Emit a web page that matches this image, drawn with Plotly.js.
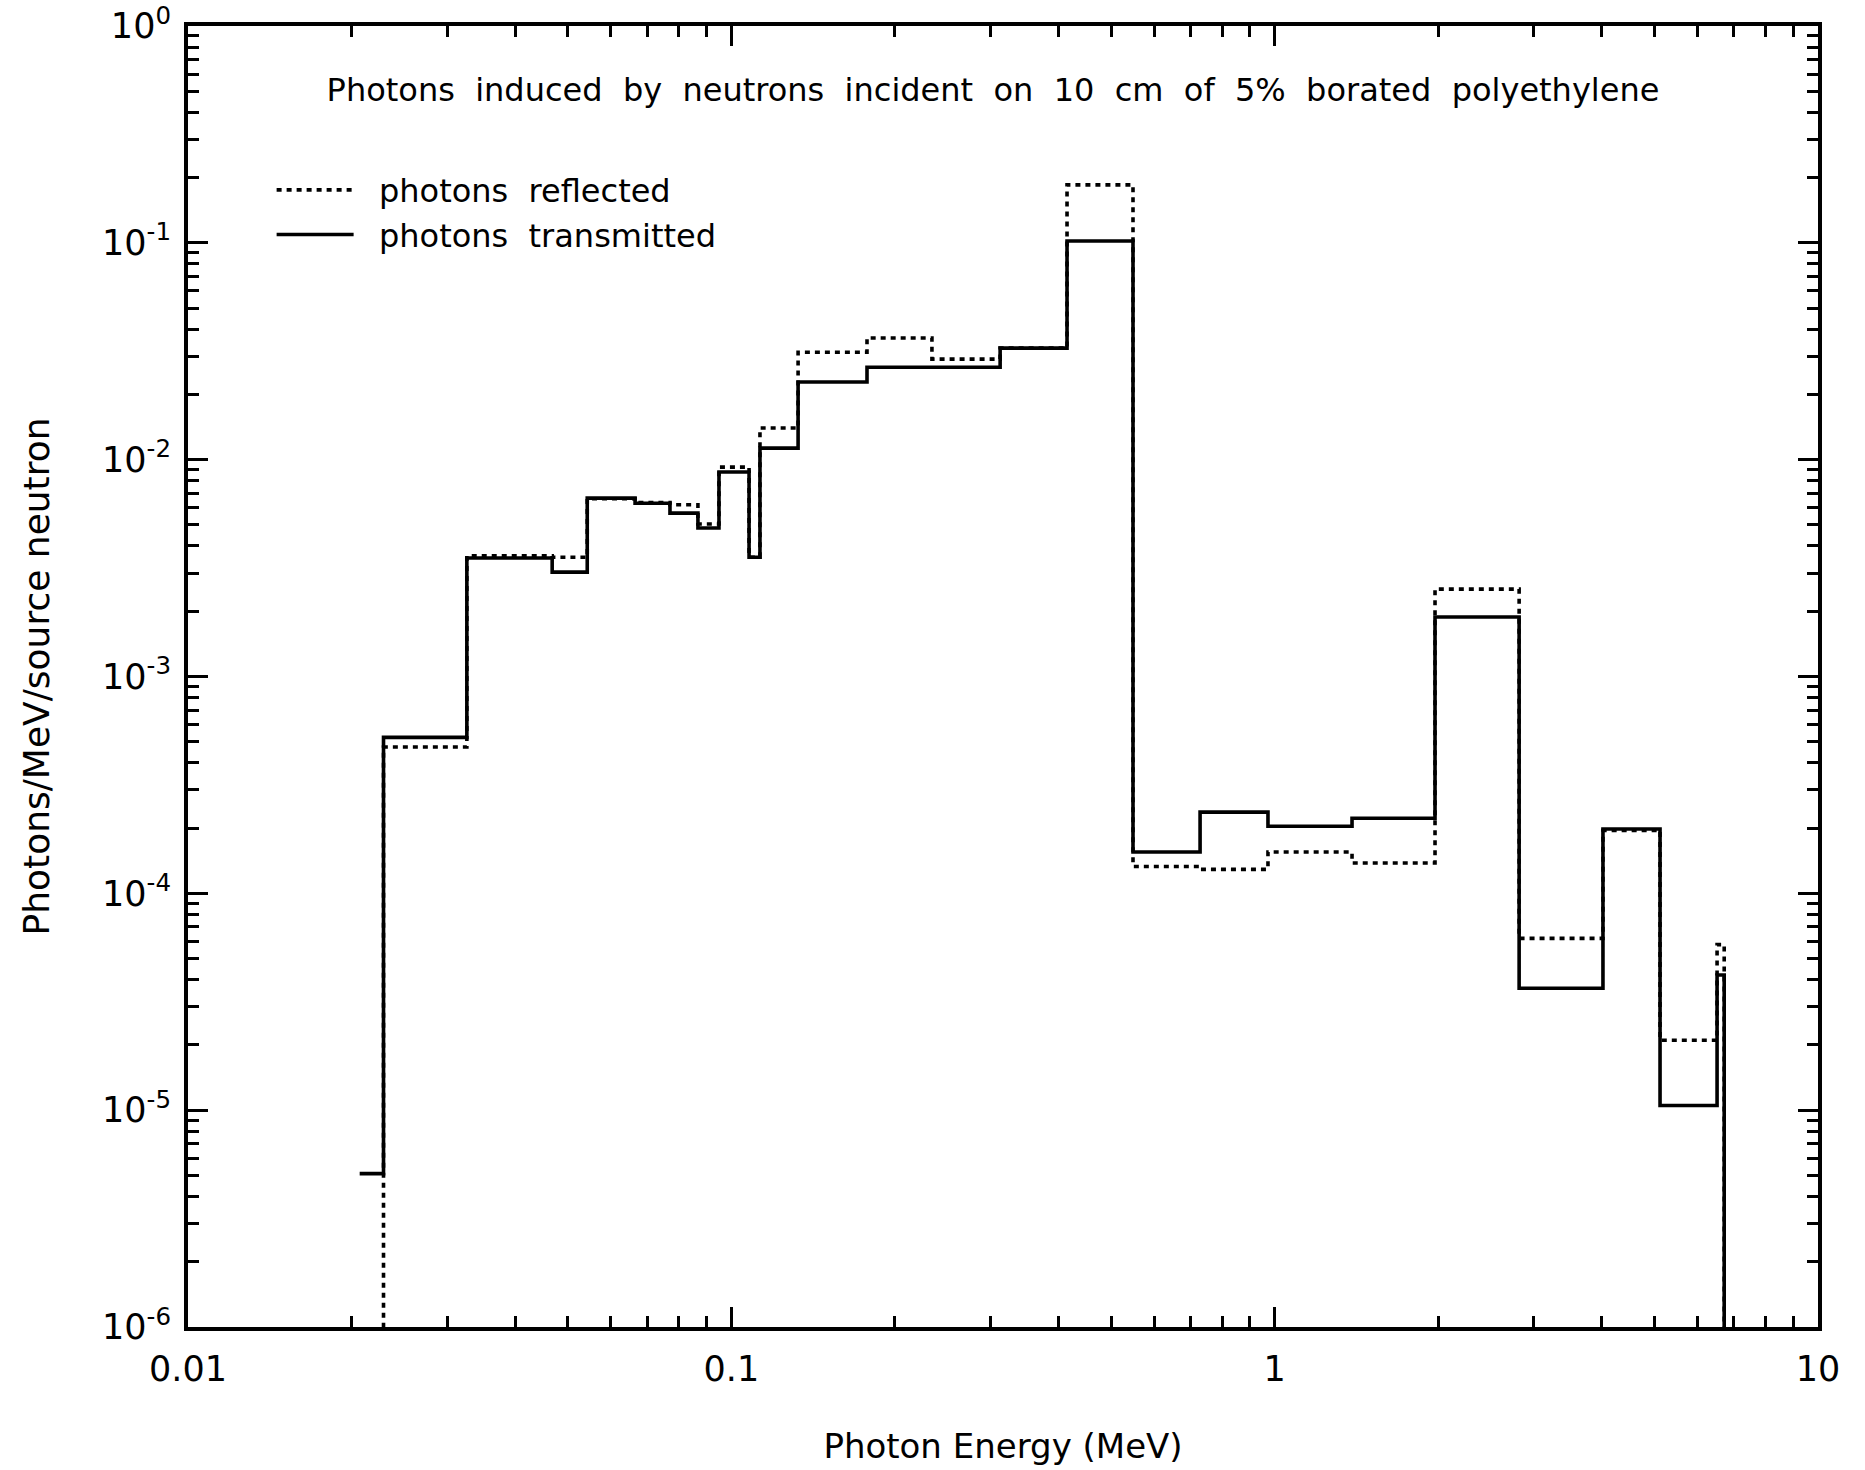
<!DOCTYPE html>
<html>
<head>
<meta charset="utf-8">
<script src="https://cdn.plot.ly/plotly-3.0.1.min.js"></script>
<style>html,body{margin:0;padding:0;background:#fff;}#chart{width:1865px;height:1470px;}</style>
</head>
<body>
<div id="chart"></div>
<script>
// Bin edges (MeV)
const binEdges = [0.0207, 0.0229, 0.0326, 0.0468, 0.0543, 0.0665, 0.0771, 0.0868, 0.0949, 0.1078, 0.1129,
  0.1327, 0.1777, 0.234, 0.3124, 0.4148, 0.5486, 0.729, 0.972, 1.388, 1.973, 2.818, 4.02, 5.12, 6.52, 6.72];
// value below the bottom of the axis (line runs off the chart)
const FLOOR = 1e-7;
// Photons/MeV/source neutron, one value per bin
const transmitted = [5.1e-6, 5.24e-4, 3.52e-3, 3.03e-3, 6.65e-3, 6.3e-3, 5.67e-3, 4.84e-3, 8.77e-3, 3.55e-3,
  1.13e-2, 2.28e-2, 2.67e-2, 2.67e-2, 3.27e-2, 0.102, 1.55e-4, 2.37e-4, 2.04e-4, 2.22e-4,
  1.88e-3, 3.65e-5, 1.98e-4, 1.05e-5, 4.2e-5];
const reflected = [FLOOR, 4.73e-4, 3.6e-3, 3.55e-3, 6.6e-3, 6.35e-3, 6.2e-3, 5.05e-3, 9.24e-3, 3.55e-3,
  1.40e-2, 3.13e-2, 3.64e-2, 2.91e-2, 3.27e-2, 0.185, 1.33e-4, 1.29e-4, 1.55e-4, 1.38e-4,
  2.53e-3, 6.2e-5, 1.95e-4, 2.1e-5, 5.8e-5];
const xTickVals = [0.01, 0.1, 1, 10];
const xTickText = ['0.01', '0.1', '1', '10'];
const yTickVals = [1e-6, 1e-5, 1e-4, 1e-3, 1e-2, 1e-1, 1];
const yTickText = ['10<sup>-6</sup>', '10<sup>-5</sup>', '10<sup>-4</sup>', '10<sup>-3</sup>', '10<sup>-2</sup>', '10<sup>-1</sup>', '10<sup>0</sup>'];
const seriesNames = ['\u00A0\u00A0photons\u00A0 reflected', '\u00A0\u00A0photons\u00A0 transmitted'];

const FONT = 'DejaVu Sans, Liberation Sans, Arial, sans-serif';

const traces = [
  {
    x: binEdges, y: reflected.concat([FLOOR]), type: 'scatter', mode: 'lines',
    line: {shape: 'hv', color: 'black', width: 3.6, dash: '5px,5px'},
    name: seriesNames[0]
  },
  {
    x: binEdges, y: transmitted.concat([FLOOR]), type: 'scatter', mode: 'lines',
    line: {shape: 'hv', color: 'black', width: 3.6},
    name: seriesNames[1]
  }
];

const axisCommon = {
  type: 'log', showline: true, linewidth: 4, linecolor: 'black', mirror: 'allticks',
  ticks: 'inside', ticklen: 20, tickwidth: 3, tickcolor: 'black',
  showgrid: false, zeroline: false,
  minor: {ticks: 'inside', ticklen: 11, tickwidth: 3, tickcolor: 'black', dtick: 'D1', showgrid: false},
  tickfont: {family: FONT, size: 35, color: 'black'}
};

const layout = {
  width: 1865, height: 1470,
  margin: {l: 188, r: 47, t: 26, b: 143, autoexpand: false},
  paper_bgcolor: 'white', plot_bgcolor: 'white',
  showlegend: true,
  title: {
    text: 'Photons\u00A0 induced\u00A0 by\u00A0 neutrons\u00A0 incident\u00A0 on\u00A0 10\u00A0 cm\u00A0 of\u00A0 5%\u00A0 borated\u00A0 polyethylene',
    font: {family: FONT, size: 32, color: 'black'},
    x: 993 / 1865, xanchor: 'center', xref: 'container',
    y: 1 - 90 / 1470, yanchor: 'middle', yref: 'container'
  },
  legend: {
    x: 0.0513, y: 0.895, xanchor: 'left', yanchor: 'top',
    font: {family: FONT, size: 32, color: 'black'},
    bgcolor: 'rgba(0,0,0,0)', borderwidth: 0, itemwidth: 77,
    tracegroupgap: 0
  },
  xaxis: Object.assign({}, axisCommon, {
    range: [-2, 1], tickmode: 'array', tickvals: xTickVals, ticktext: xTickText,
    ticklabelstandoff: 8,
    title: {text: 'Photon Energy (MeV)', font: {family: FONT, size: 34, color: 'black'}, standoff: 47}
  }),
  yaxis: Object.assign({}, axisCommon, {
    range: [-6, 0], tickmode: 'array', tickvals: yTickVals, ticktext: yTickText,
    ticklabelstandoff: 6,
    title: {text: 'Photons/MeV/source neutron', font: {family: FONT, size: 36, color: 'black'}, standoff: 42}
  })
};

Plotly.newPlot('chart', traces, layout, {displayModeBar: false, staticPlot: true});
</script>
</body>
</html>
